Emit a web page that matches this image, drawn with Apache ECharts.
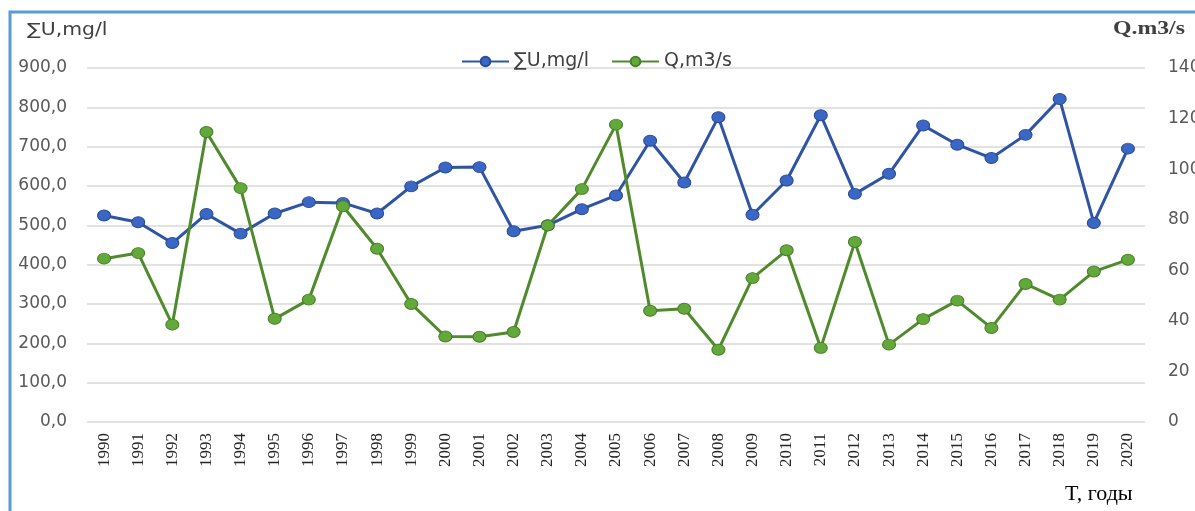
<!DOCTYPE html>
<html>
<head>
<meta charset="utf-8">
<script src="https://cdn.jsdelivr.net/npm/echarts@6/dist/echarts.min.js"></script>
<style>
  html, body { margin: 0; padding: 0; background: #fff; }
  #chart { width: 1195px; height: 511px; }
</style>
</head>
<body>
<div id="chart"></div>
<script>
const years = ['1990', '1991', '1992', '1993', '1994', '1995', '1996', '1997', '1998', '1999',
  '2000', '2001', '2002', '2003', '2004', '2005', '2006', '2007', '2008', '2009',
  '2010', '2011', '2012', '2013', '2014', '2015', '2016', '2017', '2018', '2019', '2020']

// ∑U, mg/l (left axis)
const sumU = [525, 508, 455, 529, 479, 530, 559, 557, 530, 599,
  647, 648, 485, 500, 541, 576, 715, 609, 775, 527,
  614, 780, 580, 631, 754, 705, 671, 730, 821, 506, 695]

// Q, m3/s (right axis)
const flowQ = [64.6, 66.8, 38.5, 114.7, 92.5, 40.8, 48.4, 85.3, 68.5, 46.7,
  33.8, 33.7, 35.6, 77.7, 92.1, 117.6, 44.0, 44.8, 28.6, 56.9,
  67.9, 29.3, 71.2, 30.6, 40.7, 48.0, 37.2, 54.6, 48.4, 59.5, 64.2]

const leftTicks = { min: 0, max: 900, interval: 100 }
const rightTicks = { min: 0, max: 140, interval: 20 }

const chart = echarts.init(document.getElementById('chart'))

const sansFont = '"DejaVu Sans", "Noto Sans", sans-serif'
const serifFont = '"Liberation Serif", "DejaVu Serif", serif'

chart.setOption({
  animation: false,
  // labels of the right axis run off the edge in the original, so no auto fitting
  grid: { left: 87, right: 50, top: 68, bottom: 89, outerBoundsMode: 'none' },
  legend: {
    left: 456,
    top: 47,
    itemWidth: 47,
    itemHeight: 12,
    itemGap: 22,
    textStyle: { color: '#404040', fontSize: 19, fontFamily: sansFont },
    data: ['∑U,mg/l', 'Q,m3/s'],
  },
  graphic: [
    {
      type: 'rect',
      shape: { x: 10, y: 12, width: 1240, height: 560 },
      style: { fill: 'none', stroke: '#5b9bd5', lineWidth: 3 },
      silent: true,
    },
    {
      type: 'text',
      x: 27,
      y: 22,
      scaleX: 1.2,
      style: { text: '∑U,mg/l', fill: '#404040', font: '17px ' + sansFont },
    },
    {
      type: 'text',
      x: 1113,
      y: 20,
      scaleX: 1.25,
      style: { text: 'Q.m3/s', fill: '#404040', font: 'bold 19px ' + serifFont },
    },
    {
      type: 'text',
      x: 1065,
      y: 483,
      style: { text: 'T, годы', fill: '#000', font: '22px ' + serifFont },
    },
  ],
  xAxis: {
    type: 'category',
    data: years,
    boundaryGap: true,
    axisLine: { show: false },
    axisTick: { show: false },
    axisLabel: {
      rotate: 90,
      margin: 11,
      color: '#262626',
      fontSize: 17,
      fontFamily: serifFont,
    },
  },
  yAxis: [
    {
      type: 'value',
      min: leftTicks.min,
      max: leftTicks.max,
      interval: leftTicks.interval,
      axisLine: { show: false },
      axisTick: { show: false },
      axisLabel: {
        margin: 20,
        color: '#595959',
        fontSize: 17,
        fontFamily: sansFont,
        formatter: (v) => v.toFixed(1).replace('.', ','),
      },
      splitLine: { lineStyle: { color: '#d9d9d9', width: 1.5 } },
    },
    {
      type: 'value',
      min: rightTicks.min,
      max: rightTicks.max,
      interval: rightTicks.interval,
      axisLine: { show: false },
      axisTick: { show: false },
      splitLine: { show: false },
      axisLabel: {
        margin: 23,
        color: '#595959',
        fontSize: 17,
        fontFamily: sansFont,
      },
    },
  ],
  series: [
    {
      name: '∑U,mg/l',
      type: 'line',
      yAxisIndex: 0,
      data: sumU,
      symbol: 'circle',
      symbolSize: [13, 11],
      lineStyle: { color: '#2f54a3', width: 3 },
      itemStyle: { color: '#3a67c4', borderColor: '#2a4c96', borderWidth: 1 },
    },
    {
      name: 'Q,m3/s',
      type: 'line',
      yAxisIndex: 1,
      data: flowQ,
      symbol: 'circle',
      symbolSize: [13, 11],
      lineStyle: { color: '#4f8a2c', width: 3 },
      itemStyle: { color: '#62a83a', borderColor: '#487f28', borderWidth: 1 },
    },
  ],
})
</script>
</body>
</html>
